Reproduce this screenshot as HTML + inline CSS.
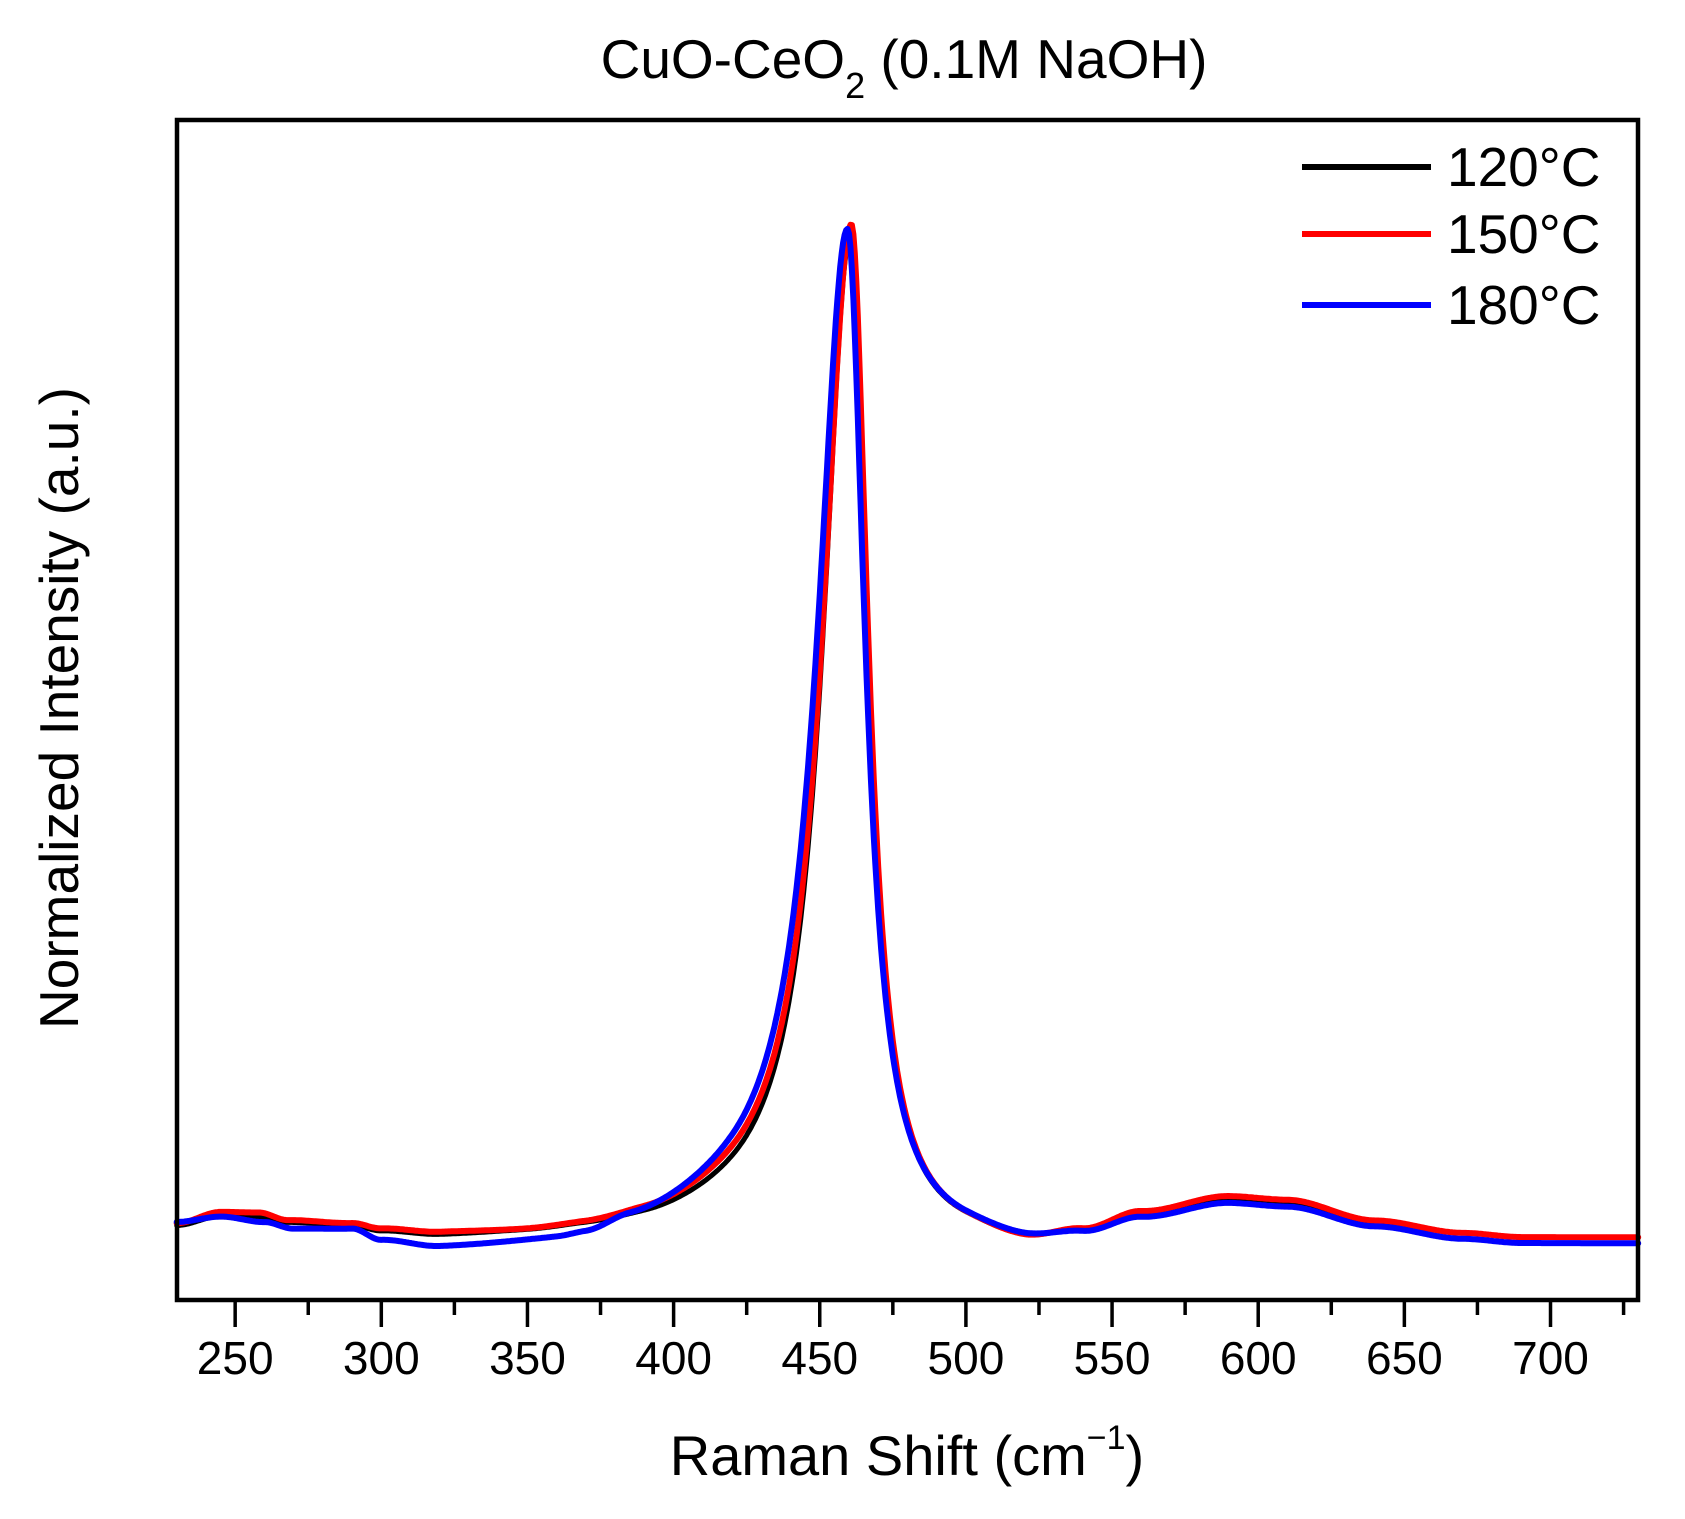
<!DOCTYPE html>
<html><head><meta charset="utf-8"><style>
html,body{margin:0;padding:0;background:#fff;}
svg{display:block;font-family:"Liberation Sans",Arial,sans-serif;}
</style></head><body>
<svg id="s" width="1685" height="1519" viewBox="0 0 1685 1519" xmlns="http://www.w3.org/2000/svg">
<text x="904" y="78" font-size="55" text-anchor="middle">CuO-CeO<tspan font-size="36" dy="20">2</tspan><tspan dy="-20"> (0.1M NaOH)</tspan></text>
<text transform="translate(78,708) rotate(-90)" font-size="55" text-anchor="middle">Normalized Intensity (a.u.)</text>
<text x="907" y="1475" font-size="56" text-anchor="middle">Raman Shift (cm<tspan font-size="34" dy="-26">−1</tspan><tspan dy="26">)</tspan></text>
<g id="ticks"></g>
<g id="curves" fill="none" stroke-linejoin="round" stroke-linecap="round"></g>
<rect x="177" y="120" width="1461" height="1180" fill="none" stroke="#000" stroke-width="4.5"/>
<g font-size="55">
<line x1="1302" y1="167" x2="1431" y2="167" stroke="#000" stroke-width="6"/>
<text x="1447" y="186">120°C</text>
<line x1="1302" y1="234" x2="1431" y2="234" stroke="#f00" stroke-width="6"/>
<text x="1447" y="253">150°C</text>
<line x1="1302" y1="305" x2="1431" y2="305" stroke="#00f" stroke-width="6"/>
<text x="1447" y="324">180°C</text>
</g>
</svg>
<script>
var NS="http://www.w3.org/2000/svg";
function X(v){return 176.7+(v-230)*2.923;}
var tk=document.getElementById('ticks');
for(var v=250;v<=725;v+=25){
  var maj=(v%50===0);
  var l=document.createElementNS(NS,'line');
  l.setAttribute('x1',X(v));l.setAttribute('x2',X(v));
  l.setAttribute('y1',1300);l.setAttribute('y2',maj?1327:1315);
  l.setAttribute('stroke','#000');l.setAttribute('stroke-width','3.5');
  tk.appendChild(l);
  if(maj){var t=document.createElementNS(NS,'text');
    t.setAttribute('x',X(v));t.setAttribute('y',1374);
    t.setAttribute('font-size','46');t.setAttribute('text-anchor','middle');
    t.textContent=v;tk.appendChild(t);}
}
function interp(pts,x){
  if(x<=pts[0][0])return pts[0][1];
  for(var i=1;i<pts.length;i++){if(x<=pts[i][0]){var a=pts[i-1],b=pts[i];var t=(x-a[0])/(b[0]-a[0]);t=t*t*(3-2*t);return a[1]+(b[1]-a[1])*t;}}
  return pts[pts.length-1][1];
}
function curve(base,pc,h,gl,gr,col,w){
  var d="";
  for(var x=230;x<=730;x+=0.5){
    var dx=x-pc,g=dx<0?gl:gr;
    var p=h/(1+(dx/g)*(dx/g));
    var y=interp(base,x)-p;
    d+=(d?"L":"M")+X(x).toFixed(1)+" "+y.toFixed(1);
  }
  var e=document.createElementNS(NS,'path');
  e.setAttribute('d',d);e.setAttribute('stroke',col);e.setAttribute('stroke-width',w);
  document.getElementById('curves').appendChild(e);
}
var redB=[[230,1226],[245,1215],[258,1216],[268,1224],[290,1228],[300,1234],[320,1239],[350,1240],[370,1238],[390,1234],[420,1226],[500,1242],[520,1248],[540,1236],[560,1216],[590,1199],[610,1202],[640,1222],[670,1234],[690,1238],[730,1238]];
var blkB=[[230,1228],[245,1219],[258,1220],[268,1226],[290,1230],[300,1236],[320,1241],[350,1240],[370,1238],[390,1236],[420,1230],[500,1242],[520,1248],[540,1237],[560,1218],[590,1201],[610,1204],[640,1223],[670,1234],[690,1238],[730,1238]];
var bluB=[[230,1225],[245,1220],[260,1226],[270,1233],[290,1234],[300,1246],[320,1254],[360,1252],[370,1250],[385,1240],[420,1226],[500,1242],[520,1247],[540,1239],[560,1222],[590,1206],[610,1209],[640,1228],[670,1240],[690,1244],[730,1244]];
curve(blkB,460.5,1000,11.5,7,'#000',5);
curve(redB,460.8,1010,12,7,'#f00',6);
curve(bluB,459.5,1005,12.5,7.3,'#00f',6);
</script>
</body></html>
